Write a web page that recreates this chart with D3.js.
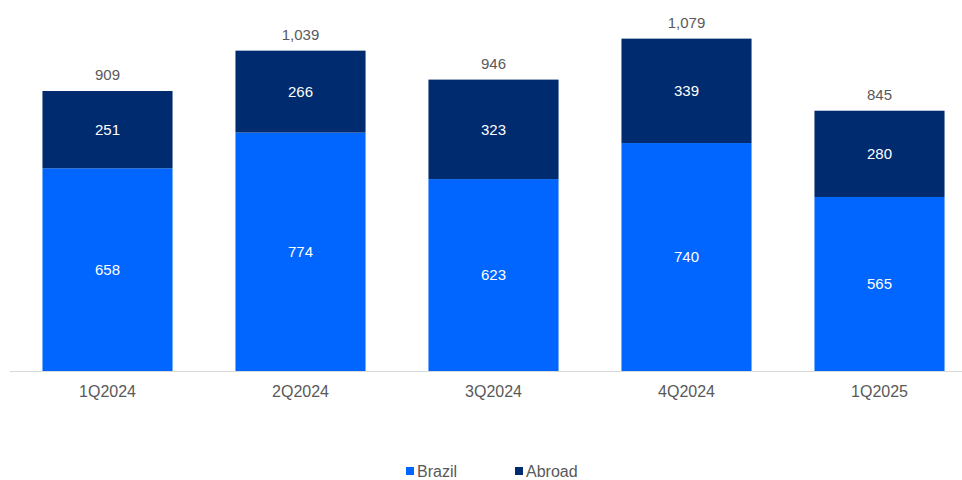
<!DOCTYPE html>
<html>
<head>
<meta charset="utf-8">
<style>
  body { margin: 0; background: #fff; }
  text { font-family: "Liberation Sans", Arial, sans-serif; }
</style>
</head>
<body>
<svg width="962" height="480"></svg>
<script src="https://d3js.org/d3.v7.min.js"></script>
<script>

var quarters = ["1Q2024", "2Q2024", "3Q2024", "4Q2024", "1Q2025"],
    brazil = [658, 774, 623, 740, 565],
    abroad = [251, 266, 323, 339, 280],
    totals = [909, 1039, 946, 1079, 845],
    seriesNames = ["Brazil", "Abroad"],
    seriesColors = ["#0066ff", "#002b6e"];

var svg = d3.select("svg"),
    fmt = d3.format(",");

var x = d3.scaleBand().domain(quarters).range([11, 976]).paddingInner(0.326).paddingOuter(0.163);
var y = d3.scaleLinear().domain([0, 909]).range([371, 91]);

var rows = quarters.map(function(q, i) { return {q: q, Brazil: brazil[i], Abroad: abroad[i], total: totals[i]}; });
var stacked = d3.stack().keys(seriesNames)(rows);

// axis line
svg.append("line")
    .attr("x1", 10).attr("x2", 962)
    .attr("y1", y(0) + 0.5).attr("y2", y(0) + 0.5)
    .attr("stroke", "#d9d9d9").attr("stroke-width", 1);

var layer = svg.selectAll(".layer").data(stacked).enter().append("g")
    .attr("fill", function(d, i) { return seriesColors[i]; });

layer.selectAll("rect").data(function(d) { return d; }).enter().append("rect")
    .attr("x", function(d) { return x(d.data.q); })
    .attr("width", x.bandwidth())
    .attr("y", function(d) { return y(d[1]); })
    .attr("height", function(d) { return y(d[0]) - y(d[1]); });

layer.selectAll("text").data(function(d) { return d; }).enter().append("text")
    .attr("x", function(d) { return x(d.data.q) + x.bandwidth() / 2; })
    .attr("y", function(d) { return (y(d[0]) + y(d[1])) / 2; })
    .attr("dy", "0.35em")
    .attr("text-anchor", "middle")
    .attr("fill", "#fff")
    .style("font-size", "15px")
    .text(function(d) { return fmt(d[1] - d[0]); });

// totals
svg.selectAll(".total").data(rows).enter().append("text")
    .attr("x", function(d) { return x(d.q) + x.bandwidth() / 2; })
    .attr("y", function(d) { return y(d.total) - 16; })
    .attr("dy", "0.35em")
    .attr("text-anchor", "middle")
    .attr("fill", "#595959")
    .style("font-size", "15px")
    .text(function(d) { return fmt(d.total); });

// category labels
svg.selectAll(".cat").data(quarters).enter().append("text")
    .attr("x", function(d) { return x(d) + x.bandwidth() / 2; })
    .attr("y", 391)
    .attr("dy", "0.35em")
    .attr("text-anchor", "middle")
    .attr("fill", "#595959")
    .style("font-size", "16px")
    .text(function(d) { return d; });

// legend
var legendX = [406, 515];
var legend = svg.selectAll(".legend").data(seriesNames).enter().append("g")
    .attr("transform", function(d, i) { return "translate(" + legendX[i] + ",471)"; });
legend.append("rect")
    .attr("x", 0).attr("y", -4).attr("width", 8).attr("height", 8)
    .attr("fill", function(d, i) { return seriesColors[i]; });
legend.append("text")
    .attr("x", 11).attr("dy", "0.35em")
    .attr("fill", "#595959")
    .style("font-size", "16px")
    .text(function(d) { return d; });

</script>
</body>
</html>
